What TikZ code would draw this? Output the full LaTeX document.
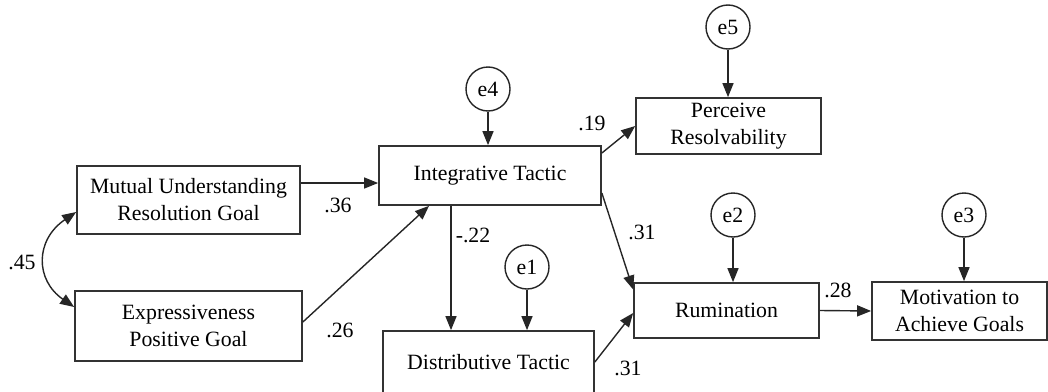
\documentclass[tikz,border=0pt]{standalone}
\usepackage{fontspec}
\setmainfont{Liberation Serif}
\usetikzlibrary{arrows.meta,calc}
\begin{document}
\begin{tikzpicture}[x=0.5pt,y=-0.5pt,
  font=\fontsize{10.9}{13.5}\selectfont,
  box/.style={draw=black!80,line width=0.85pt,rectangle,inner sep=0pt,align=center},
  err/.style={draw=black!85,line width=0.7pt,circle,minimum size=22pt,inner sep=0pt},
  arr/.style={draw=black!85,line width=0.7pt,-{Triangle[length=7pt,width=5.5pt]}},
  lab/.style={inner sep=0pt}]
\useasboundingbox (0,0) rectangle (1048,391);
% boxes
\node[box,minimum width=111.5pt,minimum height=34pt] (mu) at (188.5,200) {Mutual Understanding\\Resolution Goal};
\node[box,minimum width=113.5pt,minimum height=35pt] (ex) at (188.5,326) {Expressiveness\\Positive Goal};
\node[box,minimum width=111pt,minimum height=29.5pt] (it) at (490,175.5) {Integrative Tactic};
\node[box,minimum width=105.5pt,minimum height=31pt] (di) at (488.5,362) {Distributive Tactic};
\node[box,minimum width=92.5pt,minimum height=28pt] (pr) at (728.5,126) {Perceive\\Resolvability};
\node[box,minimum width=92.5pt,minimum height=27.5pt] (ru) at (726.5,310.5) {Rumination};
\node[box,minimum width=87.5pt,minimum height=29pt] (mo) at (959.5,311) {Motivation to\\Achieve Goals};
% error circles
\node[err] (e4) at (488,89) {e4};
\node[err] (e5) at (728,27) {e5};
\node[err] (e1) at (527,267) {e1};
\node[err] (e2) at (733,215) {e2};
\node[err] (e3) at (964,215) {e3};
% paths
\draw[arr] ($(mu.east)+(0,-17)$) -- ($(it.west)+(0,7.5)$);
\draw[arr] ($(ex.east)+(0,-4)$) -- ($(it.south)+(-61,0)$);
\draw[arr] ($(it.east)+(0,-22.5)$) -- (pr.west);
\draw[arr] ($(it.east)+(0,17.5)$) -- ($(ru.west)+(0,-21)$);
\draw[arr] (di.east) -- ($(ru.west)+(0,2.5)$);
\draw[arr] (ru.east) -- (mo.west);
\coordinate (itd) at ($(it.south)+(-39,0)$);
\draw[arr] (itd) -- (itd |- di.north);
\draw[arr] (e4.south) -- (e4.south |- it.north);
\draw[arr] (e5.south) -- (e5.south |- pr.north);
\draw[arr] (e1.south) -- (e1.south |- di.north);
\draw[arr] (e2.south) -- (e2.south |- ru.north);
\draw[arr] (e3.south) -- (e3.south |- mo.north);
\draw[draw=black!85,line width=0.7pt,{Triangle[length=7pt,width=5.5pt]}-{Triangle[length=7pt,width=5.5pt]}]
  ($(mu.west)+(0,12)$) .. controls (35,240) and (35,280) .. ($(ex.west)+(0,-19)$);
% labels
\node[lab] (l45) at (22,262) {.45};
\node[lab] (l36) at (338,205) {.36};
\node[lab] (l26) at (340,330) {.26};
\node[lab] (l19) at (592,123) {.19};
\node[lab] (l22) at (473,235) {-.22};
\node[lab] (l31a) at (642,232) {.31};
\node[lab] (l31b) at (628,368) {.31};
\node[lab] (l28) at (838,290) {.28};
\end{tikzpicture}
\end{document}
